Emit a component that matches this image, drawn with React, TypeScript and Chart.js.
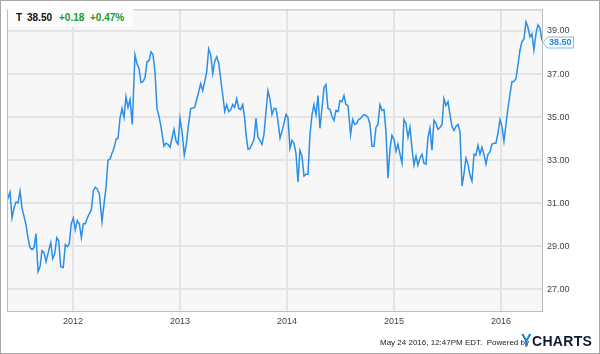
import React, { useEffect, useRef } from "react";
import { Chart, registerables } from "chart.js";

Chart.register(...registerables);

// Weekly closing prices of AT&T (T)
const YEARS: number[] = [
  2011.383, 2011.411, 2011.43, 2011.449, 2011.467, 2011.486, 2011.505, 2011.523, 2011.561, 2011.579,
  2011.598, 2011.617, 2011.636, 2011.654, 2011.673, 2011.692, 2011.71, 2011.729, 2011.748, 2011.773,
  2011.792, 2011.81, 2011.829, 2011.848, 2011.866, 2011.885, 2011.909, 2011.928, 2011.947, 2011.965,
  2011.984, 2012.003, 2012.021, 2012.04, 2012.059, 2012.078, 2012.096, 2012.115, 2012.134, 2012.152,
  2012.171, 2012.19, 2012.208, 2012.227, 2012.246, 2012.271, 2012.29, 2012.308, 2012.327, 2012.346,
  2012.364, 2012.383, 2012.402, 2012.421, 2012.439, 2012.458, 2012.477, 2012.495, 2012.514, 2012.533,
  2012.554, 2012.579, 2012.598, 2012.617, 2012.636, 2012.654, 2012.673, 2012.692, 2012.71, 2012.729,
  2012.748, 2012.766, 2012.785, 2012.804, 2012.822, 2012.85, 2012.869, 2012.888, 2012.907, 2012.925,
  2012.944, 2012.963, 2012.981, 2013.0, 2013.019, 2013.04, 2013.063, 2013.075, 2013.1, 2013.137,
  2013.156, 2013.175, 2013.193, 2013.212, 2013.231, 2013.25, 2013.268, 2013.287, 2013.306, 2013.324,
  2013.343, 2013.362, 2013.38, 2013.399, 2013.418, 2013.436, 2013.455, 2013.474, 2013.493, 2013.511,
  2013.53, 2013.549, 2013.567, 2013.586, 2013.605, 2013.617, 2013.636, 2013.654, 2013.673, 2013.692,
  2013.71, 2013.729, 2013.748, 2013.766, 2013.785, 2013.804, 2013.822, 2013.841, 2013.86, 2013.879,
  2013.897, 2013.916, 2013.935, 2013.953, 2013.972, 2013.991, 2014.009, 2014.028, 2014.047, 2014.065,
  2014.084, 2014.103, 2014.121, 2014.14, 2014.159, 2014.178, 2014.196, 2014.215, 2014.234, 2014.252,
  2014.271, 2014.29, 2014.308, 2014.327, 2014.346, 2014.364, 2014.383, 2014.402, 2014.421, 2014.439,
  2014.458, 2014.477, 2014.495, 2014.514, 2014.533, 2014.551, 2014.57, 2014.595, 2014.614, 2014.633,
  2014.651, 2014.67, 2014.689, 2014.701, 2014.72, 2014.738, 2014.757, 2014.776, 2014.794, 2014.813,
  2014.832, 2014.85, 2014.869, 2014.888, 2014.907, 2014.925, 2014.944, 2014.963, 2014.981, 2015.0,
  2015.019, 2015.037, 2015.056, 2015.075, 2015.093, 2015.112, 2015.131, 2015.15, 2015.168, 2015.187,
  2015.206, 2015.224, 2015.243, 2015.262, 2015.28, 2015.299, 2015.318, 2015.336, 2015.355, 2015.374,
  2015.393, 2015.411, 2015.43, 2015.449, 2015.467, 2015.486, 2015.505, 2015.523, 2015.542, 2015.561,
  2015.579, 2015.598, 2015.617, 2015.636, 2015.654, 2015.673, 2015.692, 2015.71, 2015.729, 2015.748,
  2015.766, 2015.785, 2015.804, 2015.822, 2015.841, 2015.86, 2015.879, 2015.897, 2015.916, 2015.935,
  2015.953, 2015.972, 2015.991, 2016.009, 2016.028, 2016.047, 2016.065, 2016.084, 2016.103, 2016.121,
  2016.14, 2016.159, 2016.178, 2016.196, 2016.215, 2016.234, 2016.252, 2016.271, 2016.29, 2016.308,
  2016.327, 2016.346, 2016.364, 2016.383, 2016.393,
];

const PRICES: number[] = [
  31.11, 31.52, 30.32, 30.79, 31.06, 31.02, 31.57, 30.79, 30.0, 29.4,
  28.94, 28.85, 28.94, 29.59, 27.83, 28.06, 28.8, 28.71, 28.29, 28.8,
  29.17, 28.43, 28.66, 29.4, 29.26, 28.06, 28.02, 29.08, 28.99, 29.12,
  30.05, 30.32, 29.77, 30.19, 30.05, 29.4, 30.05, 30.05, 30.32, 30.51,
  30.69, 31.57, 31.75, 31.66, 31.43, 30.14, 30.97, 31.71, 33.0, 33.05,
  33.32, 33.55, 33.97, 34.02, 34.94, 35.4, 34.98, 35.95, 35.45, 35.82,
  34.66, 37.89, 37.48, 37.25, 36.6, 36.65, 36.83, 37.57, 37.62, 38.03,
  37.89, 37.11, 35.4, 35.03, 34.57, 33.65, 33.79, 33.74, 33.6, 34.02,
  34.43, 33.88, 33.74, 34.94, 34.34, 33.23, 33.88, 34.48, 35.4, 35.45,
  35.82, 36.18, 36.55, 36.23, 36.65, 37.11, 38.17, 37.89, 37.02, 37.57,
  37.8, 37.52, 36.78, 36.05, 35.26, 35.58, 35.26, 35.35, 35.58, 35.45,
  35.86, 35.4, 35.35, 35.58, 34.94, 34.2, 33.51, 33.55, 33.74, 33.97,
  34.94, 34.06, 33.92, 33.74, 34.2, 35.26, 36.23, 35.82, 35.12, 35.4,
  35.4, 34.8, 34.02, 34.34, 34.71, 35.12, 34.98, 33.55, 33.92, 33.79,
  33.32, 31.99, 33.46, 33.19, 32.26, 32.35, 32.35, 34.2, 35.12, 35.58,
  35.12, 36.0, 34.48, 35.4, 36.37, 36.51, 35.4, 35.35, 35.03, 34.85,
  35.31, 35.26, 35.77, 35.72, 36.0, 35.58, 35.54, 34.2, 34.89, 34.66,
  34.71, 34.89, 34.94, 35.03, 35.12, 35.08, 34.98, 34.66, 33.65, 33.65,
  34.52, 34.66, 35.58, 35.31, 35.35, 34.34, 32.17, 33.55, 34.15, 33.97,
  33.42, 33.74, 33.28, 32.86, 34.89, 34.71, 34.06, 34.52, 33.55, 32.77,
  33.19, 32.77, 33.09, 33.28, 32.86, 32.82, 34.06, 34.48, 33.46, 34.85,
  34.71, 34.43, 34.52, 34.66, 35.86, 35.54, 35.72, 35.12, 34.57, 34.38,
  34.57, 34.66, 34.34, 31.8, 32.35, 33.09, 32.82, 32.31, 32.03, 33.28,
  33.23, 33.69, 33.28, 33.6, 33.28, 32.82, 33.28, 33.37, 33.74, 33.79,
  33.79, 34.25, 34.89, 34.57, 33.88, 34.66, 35.4, 36.05, 36.65, 36.65,
  36.78, 37.43, 38.12, 38.49, 38.63, 39.42, 39.18, 38.72, 38.86, 38.12,
  38.86, 39.28, 39.14, 38.58, 38.5,
];

const YEAR_TICKS: number[] = [2012, 2013, 2014, 2015, 2016];
const PRICE_TICKS: number[] = [27, 29, 31, 33, 35, 37, 39];
const X_MIN = 2011.383;
const X_MAX = 2016.393;
const Y_MIN = 26;
const Y_MAX = 40;

const TICKER = "T";
const LAST_PRICE = "38.50";
const CHANGE = "+0.18";
const CHANGE_PCT = "+0.47%";
const TIMESTAMP = "May 24 2016, 12:47PM EDT.";

const LINE_COLOR = "#2a8fe8";

export default function App() {
  const canvasRef = useRef<HTMLCanvasElement | null>(null);

  useEffect(() => {
    const canvas = canvasRef.current;
    if (!canvas) return;

    const bgPlugin = {
      id: "plotBg",
      beforeDraw(chart: any) {
        const { ctx, chartArea } = chart;
        ctx.save();
        ctx.fillStyle = "#f7f7f7";
        ctx.fillRect(chartArea.left, chartArea.top, chartArea.right - chartArea.left, chartArea.bottom - chartArea.top);
        ctx.restore();
      },
      afterDraw(chart: any) {
        const { ctx, chartArea, scales } = chart;
        ctx.save();
        ctx.strokeStyle = "#bdbdbd";
        ctx.lineWidth = 1;
        ctx.strokeRect(chartArea.left + 0.5, chartArea.top + 0.5, chartArea.right - chartArea.left - 1, chartArea.bottom - chartArea.top);
        // last value marker
        const last = PRICES[PRICES.length - 1];
        const y = Math.round(scales.y.getPixelForValue(last));
        const x0 = chartArea.right + 4;
        const w = 26;
        const h = 11;
        ctx.fillStyle = "#ffffff";
        ctx.strokeStyle = "#8ab8e0";
        ctx.beginPath();
        ctx.moveTo(chartArea.right, y + 0.5);
        ctx.lineTo(x0 + 0.5, y - h / 2 + 0.5);
        ctx.lineTo(x0 + w + 0.5, y - h / 2 + 0.5);
        ctx.lineTo(x0 + w + 0.5, y + h / 2 + 0.5);
        ctx.lineTo(x0 + 0.5, y + h / 2 + 0.5);
        ctx.closePath();
        ctx.fill();
        ctx.stroke();
        ctx.fillStyle = "#1e88e5";
        ctx.font = "bold 9px 'Liberation Sans', Arial, sans-serif";
        ctx.textBaseline = "middle";
        ctx.textAlign = "left";
        ctx.fillText(LAST_PRICE, x0 + 2, y + 1);
        ctx.restore();
      },
    };

    const chart = new Chart(canvas, {
      type: "line",
      data: {
        datasets: [
          {
            data: YEARS.map((x, i) => ({ x, y: PRICES[i] })),
            borderColor: LINE_COLOR,
            borderWidth: 1.5,
            pointRadius: 0,
            tension: 0,
            fill: false,
          },
        ],
      },
      options: {
        responsive: false,
        animation: false,
        layout: { padding: { left: 7, top: 7, right: 0, bottom: 23 } },
        plugins: { legend: { display: false }, tooltip: { enabled: false } },
        scales: {
          x: {
            type: "linear",
            min: X_MIN,
            max: X_MAX,
            afterBuildTicks: (scale: any) => {
              scale.ticks = YEAR_TICKS.map((v) => ({ value: v }));
            },
            afterFit: (scale: any) => {
              scale.height = 20;
            },
            ticks: {
              autoSkip: false,
              maxRotation: 0,
              padding: 5,
              color: "#444",
              font: { family: "'Liberation Sans', Arial, sans-serif", size: 9 },
              callback: (v: any) => String(v),
            },
            grid: { color: "#e4e4e4", lineWidth: 2, drawTicks: false },
            border: { display: false },
          },
          y: {
            position: "right",
            min: Y_MIN,
            max: Y_MAX,
            afterBuildTicks: (scale: any) => {
              scale.ticks = PRICE_TICKS.map((v) => ({ value: v }));
            },
            afterFit: (scale: any) => {
              scale.width = 57;
            },
            ticks: {
              padding: 4,
              color: "#444",
              font: { family: "'Liberation Sans', Arial, sans-serif", size: 9 },
              callback: (v: any) => Number(v).toFixed(2),
            },
            grid: { color: "#e4e4e4", lineWidth: 2, drawTicks: false },
            border: { display: false },
          },
        },
      },
      plugins: [bgPlugin],
    } as any);

    return () => chart.destroy();
  }, []);

  const font = "'Liberation Sans', Arial, sans-serif";

  return (
    <div style={{ position: "fixed", left: 0, top: 0, width: 600, height: 354, background: "#fff", fontFamily: font }}>
      <canvas ref={canvasRef} width={600} height={354} style={{ position: "absolute", left: 0, top: 0 }} />
      <div
        style={{
          position: "absolute",
          left: 8,
          top: 8,
          width: 125,
          height: 19,
          background: "#fcfcfc",
          fontSize: 10,
          fontWeight: "bold",
          lineHeight: "19px",
          whiteSpace: "nowrap",
        }}
      >
        <span style={{ position: "absolute", left: 8, color: "#111" }}>{TICKER}</span>
        <span style={{ position: "absolute", left: 19, color: "#111" }}>{LAST_PRICE}</span>
        <span style={{ position: "absolute", left: 51, color: "#1a9a1a" }}>{CHANGE}</span>
        <span style={{ position: "absolute", left: 82, color: "#1a9a1a" }}>{CHANGE_PCT}</span>
      </div>
      <div
        style={{
          position: "absolute",
          left: 380,
          top: 338,
          fontSize: 8,
          color: "#222",
          whiteSpace: "nowrap",
          lineHeight: "10px",
        }}
      >
        {TIMESTAMP}&nbsp;&nbsp;Powered by
      </div>
      <div
        style={{
          position: "absolute",
          left: 521,
          top: 333,
          fontSize: 14,
          fontWeight: "bold",
          whiteSpace: "nowrap",
          lineHeight: "16px",
          letterSpacing: 0.3,
        }}
      >
        <span style={{ color: "#1a7fd6", fontSize: 16 }}>Y</span>
        <span style={{ color: "#0f1a2e" }}>CHARTS</span>
      </div>
      <div
        style={{
          position: "absolute",
          left: 0,
          top: 0,
          width: 600,
          height: 354,
          boxSizing: "border-box",
          border: "1px solid #a8a8a8",
          pointerEvents: "none",
        }}
      />
    </div>
  );
}
